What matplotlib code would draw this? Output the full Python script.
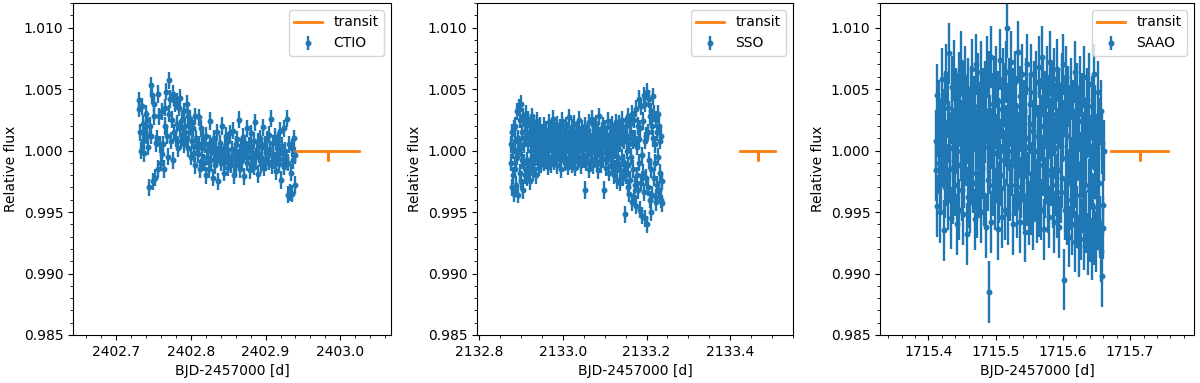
import numpy as np
import matplotlib
matplotlib.use('Agg')
import matplotlib.pyplot as plt

# flux values are read off the picture as deviation from 1 in parts per thousand
# CTIO
ctio_t0, ctio_t1 = 2402.730, 2402.940
ctio_ppt = [3.4, 4.1, 1.5, 0.0, 3.6, 2.2, 0.8, -0.2, 1.5, 3.0, 1.2, 2.5, 0.3, -3.0, 2.0,
            5.3, 1.2, 4.5, -2.5, 2.8, 3.8, -2.2, 0.6, 1.0, -1.5, 4.6, 2.8, 0.5, -1.0, 3.2, -0.3,
            0.5, -1.5, 2.0, 3.5, 4.8, 1.2, -0.5, 5.7, 3.0, 4.2, 0.8, 2.5, 4.6, -0.8, 1.5,
            3.8, 1.0, 4.0, 2.2, 0.2,
            3.5, 1.8, 4.3, 0.8, 2.5, 1.2, 3.2, 0.5, 2.0, 1.0, 3.8, 2.8, 0.2, 1.5, 2.6,
            -0.5, 2.0, 0.8, 1.8, -0.2,
            2.8, -1.2, 1.0, 0.3, -0.3, 2.7, 0.5, -1.5, 1.8, -0.8, 0.2, 1.0, -1.0, 0.5,
            -2.0, 1.2, -0.5, 0.0, -1.5, 0.6,
            2.4, -0.8, 0.3, -2.2, -0.2, 1.0, -1.2, 0.2, -0.6, 1.5,
            -2.5, -0.3, 0.6, -1.0, 0.0, 2.0, -0.4, -1.8, 0.4, -0.9,
            1.2, -0.2, -1.4, 0.8, -0.5, 1.4, -1.1, 0.1, -0.7, 1.6,
            -2.0, -0.3, 0.5, -1.2, 0.9, -0.6, 2.5, -0.2, -1.5, 0.3,
            -0.8, 1.1, -0.4, -2.1, 0.6, -0.1, 1.8, -1.0, -0.5, 0.4,
            -1.6, 0.2, 1.4, -0.7, -0.2, 0.8, -1.3, 2.3, -0.5, 0.0,
            -1.9, 0.7, -0.3, 1.0, -1.1, 0.3, -0.6, 1.9, -1.4, 0.5,
            -0.2, -1.0, 0.9, -0.4, 1.3, -0.9, 0.1, 2.6, -1.2, -0.3,
            0.6, -0.8, 1.1, -1.7, 0.2, -0.5, 0.8, -1.1, 1.6, -0.2,
            -2.4, 0.4, -0.7, 1.8, -1.3, 0.0, -0.6, 2.6, -1.0, -3.6,
            0.5, -3.4, -1.8, 0.2, -3.5, -0.8, 1.0, -2.8, -0.4]
ctio_err = 0.7

# SSO
sso_t0, sso_t1 = 2132.876, 2133.237
sso_ppt = [-1.0, 0.5, -3.0, 1.5, -2.0, 0.0, 1.8, -3.5, 0.8, -1.5,
           2.0, -0.6, -2.8, 3.2, -0.5, 1.0, -3.6, 0.3, 3.5, 2.5,
           -1.8, 3.8, 0.2, -2.5, 1.5, -0.8, -3.2, 2.8, 0.5, -1.0,
           2.2, -2.0, 1.2, 3.0, -0.8, 1.5, -2.2, 0.5, 2.5, -1.5,
           1.0, -2.5, 2.0, 0.0, -1.2, 2.8, -0.5, 1.2, -1.8, 0.8,
           2.2, -1.0, 0.3, 1.6, -0.4, -2.0, 0.9, 2.4, -0.7, 0.4,
           1.8, -1.4, 0.6, 2.0, -0.2, -1.1, 1.3,
           0.8, -0.5, 1.5, 0.2, -1.0, 1.2, 2.0, -0.3, 0.6, 1.7,
           -0.8, 0.4, 1.0, -1.3, 0.9, 2.3, 0.1, -0.6, 1.4, 0.5,
           -1.1, 1.8, 0.3, 0.9, -0.4, 2.6, 0.7, -0.9, 1.2, 0.0,
           1.6, -0.5, 0.8, 2.1, -1.2, 0.4, 1.3, -0.2, 0.9, 1.9,
           -0.7, 0.2, 1.1, -1.5, 0.6, 2.4, 0.3, -0.3, 1.5, 0.8,
           -1.0, 1.2, 0.0, 2.0, -0.6, 0.7, 1.6, -1.3, 0.5, 2.7,
           0.1, -0.8, 1.3, 0.6, -0.2, 1.9, -1.1, 0.9, 0.3, 1.4,
           -0.5, 2.2, 0.4, -1.4, 1.0, 0.7, -0.3, 1.7, 0.2, -0.9,
           1.1, 2.5, -0.6, 0.5, 1.3, -1.2, 0.8, 0.0, 1.8, -0.4,
           0.6, 1.2, 0.3, -0.7, -3.2, 2.0, 0.9, -1.0, 1.5, 0.1,
           -0.3, 1.7, 0.5, -1.5, 2.3, 0.2, 1.0, -0.8, 0.7, 2.6,
           -0.1, 1.3, -1.2, 0.4, 1.9, 0.8, -0.6, 1.1, 0.0, 2.2,
           -0.9, 0.6, 1.4, -1.6, 0.3, 2.8, 0.9, -0.4, 1.2, 0.5,
           -1.1, 1.6, 0.2, -0.7, 2.0, 1.0, -3.2, 0.7, 1.8, -0.2,
           0.9, -1.4, 1.3, 0.4, -0.5, 2.4, 0.1, -1.8, 1.0, 0.6,
           -0.8, 1.9, 0.3, -1.2, 2.1, -0.3, 0.8, -2.0, 1.5, 0.0,
           -1.5, 2.3, 0.5, -0.9, 1.2, -2.4, 1.8, 0.2, -1.1, 2.2,
           -2.6, 0.6, 1.4, -1.7, 2.5, -0.6, 0.9, -2.2, 1.7, -1.0,
           0.8, -1.5, -5.2,
           2.0, -2.0, 1.2, 0.0, -3.0, 2.8, -1.2, 0.5, -3.5, 2.2,
           -2.4, 1.5, -0.5, -4.2, 3.0, -1.5, 0.8, -3.8, 2.5, 1.0,
           -2.8, 1.0, -4.5, 3.4, -2.0, 0.3, -3.2, 2.0, -1.0, 0.9,
           4.2, -4.8, 1.8, -2.6, 3.6, -0.4, -5.3, 2.4, -1.8, 4.5,
           -3.4, 0.8, -5.5, 3.8, -2.2, 1.2, 4.8, -6.0, 1.5, -3.0,
           4.2, -0.8, -4.0, 2.8, -1.5, 3.2, -5.0, 2.0, -3.6, 4.4,
           1.0, -2.2, 3.0, -1.0, 0.5, -3.8, 2.5, -4.2, 1.5, -2.8,
           3.0, -0.5, -3.2, 2.0, -1.8, 0.8, -4.0, 1.2, -2.5, -4.3]
sso_err = 0.7

# SAAO
saao_t0, saao_t1 = 1715.411, 1715.661
saao_ppt = [-1.6, 0.8, 4.5, -4.5, 2.0, -1.0, 3.2, -5.0, 0.5, 1.8,
            -2.5, 5.8, -0.5, 2.5, -6.5, 1.2, 4.0, -3.0, 0.0, 6.2,
            -2.0, 3.5, -4.0, 1.5, 7.9, -1.5, 0.2, -5.5, 3.0, 5.2,
            -3.5, 1.0, -0.8, 6.5, -2.8, 2.2, 4.2, -6.0, 0.6, 3.8,
            -1.2, 5.5, -4.8, 2.8, 0.0, 7.2, -3.2, 1.6, -5.2, 4.6,
            2.0, -2.2, 6.0, -0.4, 3.4, -6.8, 1.4, 5.0, -3.8, 0.8,
            2.6, -4.2, 4.4, -1.8, 1.8, 6.6, -2.6, 0.4, 3.6, -5.6,
            2.4, 7.0, -1.8, 0.9, -4.6, 5.4, 1.1, -3.0, 3.0, -0.6,
            6.4, -5.0, 2.2, -1.4, 4.2, 0.3, -3.6, 4.8, 1.5, -6.2,
            3.2, 6.8, -2.4, 0.7, -11.5, 5.6, 2.0, -1.0, 7.6, -5.8,
            1.0, 3.8, -2.8, 5.2, -0.2, -4.0, 2.6, 6.0, -1.6, 0.5,
            -6.4, 4.0, 1.8, -3.4, 7.4, 0.1, -2.0, 3.4, -5.4, 5.8,
            2.2, -0.8, 4.6, -4.8, 1.2, 6.4, 10.0, -0.4, 3.0, -5.2,
            5.0, 0.8, -3.2, 2.8, 7.2, -1.2, 0.0, -6.0, 4.2, 1.6,
            -2.8, 5.6, -0.6, 3.6, -4.6, 1.4, 8.0, -2.0, 0.6, -5.8,
            4.4, -3.0, 2.4, 2.0, 6.2, -1.4, -4.0, 3.2, 0.2, -6.6,
            5.0, 1.0, -3.6, 7.0, -2.6, 0.4, -5.2, 3.8, 2.2, -4.4,
            6.2, -1.8, -5.6, 1.6, 4.8, -3.2, 0.0, 3.0, -3.2, 5.6,
            -5.0, 1.2, -2.4, 6.8, -4.5, -0.6, 3.4, -4.8, 2.0, 7.6,
            -1.2, 5.2, -6.4, 0.8, 4.0, -3.0, 2.6, -1.6, 6.0, -4.2,
            0.6, 3.6, -5.4, 1.8, 7.2, -2.0, -0.2, 4.6, -3.8, 2.4,
            -5.8, 5.8, 0.2, -2.8, 3.0, 6.6, -4.6, 1.0, -1.6, 4.2,
            -6.2, 2.8, 0.4, -3.4, 5.4, -2.2, 1.6, 7.0, -10.5, -4.8,
            3.6, -0.6, 6.0, -5.2, 1.2, -2.6, 4.4, -7.0, 0.0, 2.8,
            -4.0, 5.0, -1.4, -6.0, 3.2, 0.8, -3.0, 6.4, -7.4, 1.4,
            -2.2, 4.6, -5.4, 0.2, -7.8, 2.4, -3.6, 5.2, -1.0, -6.4,
            3.8, -4.2, 0.6, -7.2, 6.0, -2.8, 1.8, -5.8, -0.4, 4.2,
            -7.6, 2.2, -3.2, 5.4, -6.6, 0.4, -2.0, 3.6, -8.0, 1.0,
            -4.6, 6.2, -6.8, -1.4, 2.8, -7.4, 0.2, -3.8, 4.8, -5.6,
            -2.6, 1.8, -6.2, 3.2, -8.2, -10.2, 0.6, -4.4, -6.3, 0.0]
saao_err = 2.5

# predicted transit: start, mid, end and depth marker
transit_ctio = [2402.941, 2402.983, 2403.025]
transit_sso = [2133.423, 2133.466, 2133.508]
transit_saao = [1715.672, 1715.714, 1715.756]
transit_depth = 0.99925

names = ['CTIO', 'SSO', 'SAAO']
starts = [ctio_t0, sso_t0, saao_t0]
ends = [ctio_t1, sso_t1, saao_t1]
fluxes = [ctio_ppt, sso_ppt, saao_ppt]
errs = [ctio_err, sso_err, saao_err]
transits = [transit_ctio, transit_sso, transit_saao]
xlims = [(2402.642, 2403.068), (2132.795, 2133.550), (1715.328, 1715.795)]

fig = plt.figure(figsize=(12, 3.83), dpi=100)
lefts = [73, 477, 880]
widths = [318, 316, 314]

for k in range(3):
    ax = fig.add_axes([lefts[k] / 1200, 48 / 383, widths[k] / 1200, 332 / 383])
    f = 1 + np.array(fluxes[k]) / 1000.0
    t = np.linspace(starts[k], ends[k], len(f))
    ax.errorbar(t, f, yerr=errs[k] / 1000.0, fmt='.', color='C0', ms=6.5,
                elinewidth=1.7, label=names[k])
    tr = transits[k]
    ax.plot([tr[0], tr[1], tr[1], tr[1], tr[2]], [1, 1, transit_depth, 1, 1],
            color='C1', lw=2, label='transit')
    ax.set_xlim(xlims[k])
    ax.set_ylim(0.985, 1.012)
    ax.ticklabel_format(useOffset=False, axis='x')
    ax.minorticks_on()
    ax.set_xlabel('BJD-2457000 [d]')
    ax.set_ylabel('Relative flux')
    ax.legend(loc='upper right')

fig.savefig('out.png')
